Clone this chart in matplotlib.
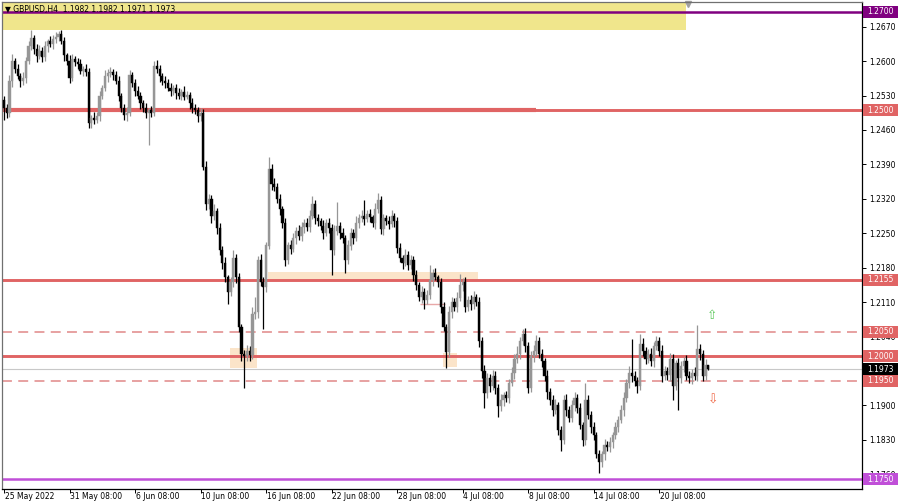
import numpy as np
import matplotlib
matplotlib.use("Agg")
import matplotlib.pyplot as plt
from matplotlib.patches import Rectangle

""" GBPUSD H4 chart with support / resistance levels, MT4 look. """

# closes in pips (price * 10000), one per H4 bar
closes = [
  12505, 12495, 12560, 12600, 12585, 12570, 12560, 12565, 12600, 12630,
  12648, 12625, 12610, 12620, 12608, 12630, 12640, 12635, 12645, 12650,
  12655, 12640, 12612, 12600, 12566, 12605, 12598, 12595, 12580, 12585,
  12578, 12475, 12485, 12480, 12488, 12530, 12545, 12570, 12575, 12578,
  12572, 12560, 12530, 12505, 12490, 12495, 12572, 12555, 12540, 12530,
  12515, 12505, 12495, 12500, 12495, 12590, 12585, 12570, 12560, 12555,
  12545, 12540, 12545, 12535, 12530, 12538, 12528, 12532, 12515, 12505,
  12500, 12488, 12495, 12385, 12310, 12320, 12285, 12295, 12260, 12215,
  12190, 12160, 12130, 12150, 12200, 12160, 12060, 12005, 12000, 12010,
  12002, 12085, 12090, 12195, 12150, 12140, 12225, 12380, 12350, 12345,
  12320, 12300, 12270, 12195, 12225, 12218, 12240, 12255, 12245, 12262,
  12270, 12262, 12285, 12310, 12280, 12275, 12265, 12250, 12270, 12260,
  12215, 12255, 12265, 12250, 12240, 12195, 12225, 12250, 12240, 12270,
  12280, 12285, 12278, 12290, 12282, 12270, 12300, 12318, 12258, 12280,
  12275, 12268, 12285, 12275, 12220, 12200, 12190, 12205, 12185, 12195,
  12165, 12145, 12120, 12130, 12115, 12125, 12155, 12170, 12160, 12150,
  12100, 12060, 12008, 12090, 12110, 12100, 12118, 12145, 12150, 12100,
  12115, 12105, 12120, 12110, 12030, 11970, 11925, 11955, 11940, 11960,
  11935, 11898, 11910, 11920, 11915, 11945, 11965, 11995, 12005, 12030,
  12045, 12020, 11935, 12000, 12010, 12030, 12005, 11990, 11960, 11928,
  11910, 11890, 11900, 11850, 11830, 11910, 11890, 11875, 11900, 11915,
  11895, 11860, 11830, 11910, 11880, 11855, 11840, 11800, 11785, 11800,
  11820, 11815, 11825, 11840, 11855, 11870, 11890, 11915, 11945, 11965,
  11960, 11950, 11940, 12025, 12010, 11995, 12005, 11990, 12020, 12030,
  12010, 11960, 11970, 11962, 11995, 11940, 11985, 11955, 11980, 11990,
  11960, 11955, 11965, 11960, 12015, 12005, 11960, 11982, 11973,
]
first_open = 12520

# upper / lower wick length in pips
wick_up = [
  10, 8, 12, 15, 6, 10, 5, 12, 8, 10,
  15, 6, 10, 12, 8, 10, 6, 12, 8, 10,
  6, 8, 10, 5, 12, 10, 6, 8, 10, 6,
  10, 8, 6, 12, 8, 10, 6, 12, 8, 10,
  5, 8, 10, 6, 8, 12, 10, 6, 8, 10,
  8, 6, 10, 5, 8, 10, 12, 8, 6, 10,
  8, 10, 6, 8, 10, 6, 12, 8, 5, 10,
  8, 6, 10, 8, 12, 10, 8, 15, 6, 10,
  8, 12, 6, 10, 15, 8, 10, 6, 8, 12,
  10, 15, 30, 8, 12, 10, 8, 25, 10, 12,
  8, 10, 6, 10, 8, 12, 10, 8, 12, 10,
  8, 10, 12, 15, 8, 10, 6, 12, 8, 10,
  8, 12, 48, 8, 10, 6, 12, 10, 8, 15,
  10, 12, 33, 8, 10, 6, 12, 14, 8, 10,
  8, 10, 12, 6, 8, 10, 6, 12, 8, 10,
  8, 10, 6, 12, 8, 10, 31, 8, 10, 6,
  8, 10, 6, 12, 10, 8, 12, 23, 8, 10,
  8, 10, 12, 6, 10, 8, 12, 10, 8, 12,
  10, 8, 12, 6, 10, 8, 12, 10, 15, 8,
  10, 12, 8, 10, 12, 12, 8, 10, 6, 12,
  8, 10, 12, 6, 8, 10, 12, 8, 10, 12,
  8, 10, 6, 36, 10, 8, 12, 6, 10, 8,
  12, 8, 10, 6, 12, 8, 10, 12, 8, 15,
  70, 10, 8, 20, 12, 8, 10, 12, 8, 10,
  8, 12, 10, 8, 12, 10, 8, 12, 10, 8,
  12, 10, 8, 12, 48, 10, 8, 12, 0,
]
wick_dn = [
  25, 10, 8, 12, 10, 6, 12, 8, 10, 6,
  8, 10, 12, 6, 10, 8, 12, 6, 10, 8,
  10, 6, 12, 8, 10, 6, 8, 12, 6, 10,
  8, 10, 12, 8, 6, 10, 8, 6, 12, 8,
  10, 6, 12, 8, 10, 12, 6, 8, 10, 6,
  12, 8, 10, 65, 8, 6, 10, 12, 8, 10,
  6, 10, 8, 12, 6, 10, 8, 6, 12, 10,
  8, 12, 10, 6, 12, 10, 15, 8, 12, 10,
  12, 10, 25, 8, 10, 12, 10, 15, 65, 10,
  12, 8, 10, 12, 8, 85, 10, 8, 12, 10,
  8, 12, 10, 12, 8, 10, 6, 12, 8, 10,
  12, 8, 10, 6, 12, 10, 8, 12, 6, 10,
  50, 10, 8, 12, 10, 25, 8, 10, 12, 6,
  10, 8, 12, 6, 10, 8, 12, 8, 10, 12,
  8, 10, 6, 12, 10, 8, 12, 6, 10, 8,
  12, 10, 8, 12, 20, 10, 8, 12, 6, 10,
  12, 8, 32, 10, 12, 8, 10, 6, 12, 10,
  8, 12, 10, 8, 12, 15, 30, 10, 12, 8,
  12, 22, 10, 12, 8, 10, 6, 12, 8, 10,
  8, 12, 10, 8, 12, 10, 8, 12, 10, 15,
  10, 12, 8, 10, 22, 8, 12, 10, 8, 12,
  10, 8, 12, 10, 8, 12, 10, 8, 23, 10,
  12, 8, 10, 12, 8, 10, 6, 12, 8, 10,
  12, 10, 15, 8, 10, 12, 8, 10, 12, 8,
  10, 12, 8, 10, 12, 30, 8, 65, 10, 12,
  8, 10, 12, 8, 10, 12, 10, 8, 2,
]

date_labels = ["25 May 2022", "31 May 08:00", "6 Jun 08:00", "10 Jun 08:00", "16 Jun 08:00",
               "22 Jun 08:00", "28 Jun 08:00", "4 Jul 08:00", "8 Jul 08:00", "14 Jul 08:00",
               "20 Jul 08:00"]
date_bars = [0, 24, 48, 72, 96, 120, 144, 168, 192, 216, 240]

# 1.1970 sits under the last-price box, so it is not listed
price_ticks = [1.2670, 1.2600, 1.2530, 1.2460, 1.2390, 1.2320, 1.2250, 1.2180,
               1.2110, 1.2040, 1.1900, 1.1830, 1.1760]

solid_levels = [1.2500, 1.2155, 1.2000]
dashed_levels = [1.2050, 1.1950]
top_level = 1.2700
bottom_level = 1.1750
last_price = 1.1973

# zones: (bar from, bar to, price low, price high)
yellow_zone = (-1, 249.8, 1.2663, 1.2725)
peach_zones = [(82.8, 92.5, 1.1976, 1.2016),
               (96.7, 173.6, 1.2155, 1.2172),
               (160.8, 166, 1.1978, 1.2006)]

title = "\u25bc GBPUSD,H4  1.1982 1.1982 1.1971 1.1973"

assert len(closes) == len(wick_up) == len(wick_dn)

RED = "#e06464"
RED_LIGHT = "#e59a9a"
PURPLE = "#800080"
ORCHID = "#c04fd8"
UP = "#969696"
DOWN = "#000000"

closes_p = np.array(closes) / 10000.0
opens_p = np.array([first_open] + closes[:-1]) / 10000.0
highs_p = np.maximum(opens_p, closes_p) + np.array(wick_up) / 10000.0
lows_p = np.minimum(opens_p, closes_p) - np.array(wick_dn) / 10000.0
bars = np.arange(len(closes))

fig = plt.figure(figsize=(9, 5.04), dpi=100)
ax = fig.add_axes([2 / 900, 15 / 504, 860 / 900, 487 / 504])
ax.set_xlim(-0.73, 314.3)
ax.set_ylim(1.17297, 1.27203)

# zones
x0, x1, lo, hi = yellow_zone
ax.add_patch(Rectangle((x0, lo), x1 - x0, hi - lo, color="#f0e68c", zorder=0, lw=0))
for x0, x1, lo, hi in peach_zones:
  ax.add_patch(Rectangle((x0, lo), x1 - x0, hi - lo, color="#fbe4c9", zorder=0, lw=0))
ax.hlines(1.2106, 152.5, 161.5, color="#e8a8a8", lw=1, zorder=1)

# levels
ax.axhline(top_level, color=PURPLE, lw=1.8, zorder=1)
ax.axhline(bottom_level, color=ORCHID, lw=1.8, zorder=1)
for lvl in solid_levels:
  ax.axhline(lvl, color=RED, lw=2.1, zorder=1)
ax.hlines(1.2500, -0.73, 194.9, color=RED, lw=3.0, zorder=1)
for lvl in dashed_levels:
  ax.axhline(lvl, color=RED_LIGHT, lw=1.3, ls=(0, (5.5, 3.5)), zorder=1)
ax.axhline(last_price, color="#c8c8c8", lw=0.8, zorder=1)

# candles
is_up = closes_p >= opens_p
colors = np.where(is_up, UP, DOWN)
ax.vlines(bars, lows_p, highs_p, colors=colors, lw=0.9, zorder=2)
body_lo = np.minimum(opens_p, closes_p)
body_h = np.maximum(np.abs(closes_p - opens_p), 0.00005)
ax.bar(bars, body_h, bottom=body_lo, width=0.8, color=colors, edgecolor=colors, lw=0.3, zorder=3)

# arrows
ax.text(259.3, 1.2082, "\u21e7", color="#5cc85c", fontsize=9, ha="center", va="center")
ax.text(259.6, 1.1911, "\u21e9", color="#f06a4a", fontsize=9, ha="center", va="center")
ax.plot([250.5], [1.2716], marker="v", color="#a0a0a0", ms=4, clip_on=False)

# axes look
for side in ["left", "top"]:
  ax.spines[side].set_color("#707070")
for side in ["right", "bottom"]:
  ax.spines[side].set_color("#000000")
for sp in ax.spines.values():
  sp.set_linewidth(0.9)

ax.yaxis.tick_right()
ax.set_yticks(price_ticks)
ax.set_yticklabels([f"{p:.4f}" for p in price_ticks])
ax.tick_params(axis="y", length=3, width=0.7, pad=2, labelsize=5.5, colors="#000000")
ax.set_xticks(date_bars)
ax.set_xticklabels([])
ax.tick_params(axis="x", length=3, width=0.7, direction="out")
for b, lab in zip(date_bars, date_labels):
  ax.text(b + 0.3, -0.006, lab, transform=ax.get_xaxis_transform(), ha="left", va="top",
          fontsize=5.5, color="#000000")

ax.text(0.004, 0.994, title, transform=ax.transAxes, ha="left", va="top", fontsize=5.5,
        color="#000000", zorder=5)

# price label boxes on the right axis
boxes = [(top_level, PURPLE), (1.2500, RED), (1.2155, RED), (1.2050, RED),
         (1.2000, RED), (last_price, "#000000"), (1.1950, RED), (bottom_level, ORCHID)]
trans = ax.get_yaxis_transform()
box_h = 12 / 4916
for lvl, col in boxes:
  ax.add_patch(Rectangle((1.0012, lvl - box_h / 2), 0.0407, box_h, transform=trans,
                         color=col, clip_on=False, zorder=6, lw=0))
  ax.text(1.0012 + 0.0407 / 2, lvl, f"{lvl:.4f}", transform=trans, ha="center", va="center",
          fontsize=5.5, color="#ffffff", clip_on=False, zorder=7)

fig.savefig("out.png", dpi=100)
